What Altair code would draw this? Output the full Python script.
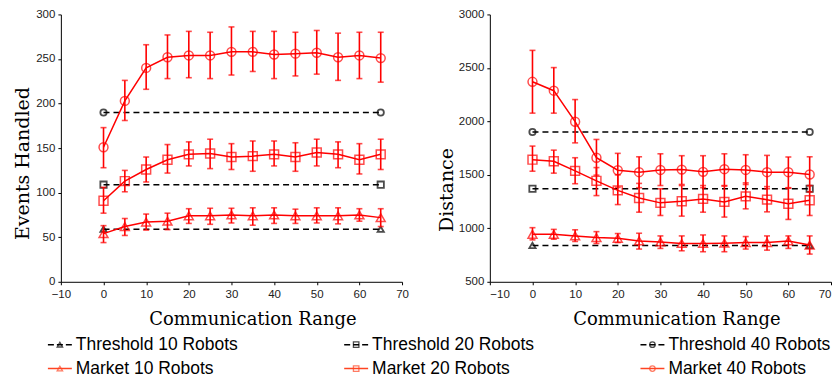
import altair as alt
import pandas as pd

# ---------------- data ----------------
comm_range = [0, 5, 10, 15, 20, 25, 30, 35, 40, 45, 50, 55, 60, 65]
thr_x = [0, 65]

# Left panel: Events Handled
ev_thr10 = 59
ev_thr20 = 109
ev_thr40 = 190
ev_m10 = [54, 62, 67, 68, 74, 74, 75, 74, 75, 74, 74, 74, 75, 72]
ev_m10_lo = [44, 52, 58, 58.5, 65.5, 64.5, 66, 63.5, 65.5, 65.5, 66, 65, 68, 62]
ev_m10_hi = [63, 71, 76, 77, 82, 82.5, 82.5, 83, 83, 81.5, 83, 83, 82, 82]
ev_m20 = [91, 113, 126, 137, 143, 144, 140, 141, 143, 140, 145, 143, 137, 143]
ev_m20_lo = [77, 101, 112, 122, 130, 127, 126, 124, 130, 124, 130, 128, 121, 126]
ev_m20_hi = [106, 125, 140, 154, 157, 160, 155, 158, 158, 156, 160, 157, 155, 160]
ev_m40 = [151, 203, 240, 252, 254, 254, 258, 258, 255, 256, 257, 252, 254, 251]
ev_m40_lo = [128, 181, 216, 228, 229, 228, 232, 236, 228, 231, 233, 226, 228, 224]
ev_m40_hi = [173, 226, 266, 277, 281, 280, 286, 281, 281, 280, 282, 279, 280, 280]

# Right panel: Distance
di_thr10 = 840
di_thr20 = 1370
di_thr40 = 1900
di_m10 = [944, 944, 929, 914, 907, 882, 873, 858, 858, 861, 867, 867, 882, 843]
di_m10_lo = [892, 898, 877, 858, 867, 806, 812, 790, 781, 781, 806, 796, 812, 759]
di_m10_hi = [1006, 990, 986, 969, 951, 954, 929, 929, 938, 929, 923, 929, 929, 929]
di_m20 = [1642, 1627, 1537, 1444, 1355, 1284, 1238, 1253, 1275, 1247, 1299, 1268, 1229, 1262]
di_m20_lo = [1534, 1516, 1417, 1306, 1222, 1151, 1120, 1114, 1151, 1105, 1182, 1154, 1083, 1120]
di_m20_hi = [1769, 1731, 1660, 1568, 1500, 1420, 1370, 1400, 1400, 1395, 1425, 1390, 1375, 1400]
di_m40 = [2370, 2287, 1997, 1660, 1543, 1525, 1546, 1549, 1528, 1553, 1546, 1525, 1525, 1503]
di_m40_lo = [2077, 2077, 1799, 1497, 1383, 1380, 1400, 1410, 1380, 1400, 1410, 1370, 1380, 1340]
di_m40_hi = [2664, 2503, 2204, 1831, 1701, 1669, 1697, 1679, 1679, 1697, 1688, 1682, 1667, 1669]

legend_labels = ["Threshold 10 Robots", "Threshold 20 Robots", "Threshold 40 Robots",
                 "Market 10 Robots", "Market 20 Robots", "Market 40 Robots"]
legend_kind = ["Threshold", "Threshold", "Threshold", "Market", "Market", "Market"]
legend_robots = ["10", "20", "40", "10", "20", "40"]
legend_col = [0, 1, 2, 0, 1, 2]
legend_row = [0, 0, 0, 1, 1, 1]

RED = "#ff0000"
ORANGE = "#ff4422"
SERIES = ["10", "20", "40"]
SHAPES = ["triangle-up", "square", "circle"]
PW, PH = 342, 268


def market_df(means, los, his):
    rows = []
    for name, m, lo, hi in zip(SERIES, means, los, his):
        for x, a, b, c in zip(comm_range, m, lo, hi):
            rows.append({"x": x, "y": a, "lo": b, "hi": c, "s": name})
    return pd.DataFrame(rows)


def thr_df(vals):
    rows = []
    for name, v in zip(SERIES, vals):
        for x in thr_x:
            rows.append({"x": x, "y": v, "s": name})
    return pd.DataFrame(rows)


def panel(mdf, tdf, ydom, ystep, ytitle, flush, ytx, yty, xtx):
    xs = alt.Scale(domain=[-10, 70], nice=False)
    ys = alt.Scale(domain=ydom, nice=False, zero=False)
    xax = alt.Axis(values=list(range(-10, 71, 10)), title="Communication Range",
                   labelPadding=4, labelFlush=flush, format="d",
                   titleX=xtx, titleY=42.5, titleBaseline="alphabetic", titleFontSize=18)
    yax = alt.Axis(values=list(range(ydom[0], ydom[1] + 1, ystep)), title=ytitle,
                   labelPadding=3, format="d",
                   titleX=ytx, titleY=yty, titleBaseline="alphabetic", titleFontSize=19)
    shape = alt.Shape("s:N", scale=alt.Scale(domain=SERIES, range=SHAPES), legend=None)

    base_t = alt.Chart(tdf)
    tline = base_t.mark_line(color="black", strokeDash=[6, 4], strokeWidth=1.5).encode(
        x=alt.X("x:Q", scale=xs, axis=xax), y=alt.Y("y:Q", scale=ys, axis=yax), detail="s:N")
    tpts = base_t.mark_point(color="black", filled=False, size=40, strokeWidth=1.8).encode(
        x="x:Q", y="y:Q", shape=shape)

    base_m = alt.Chart(mdf)
    rule = base_m.mark_rule(color=RED, strokeWidth=1.6).encode(x="x:Q", y="lo:Q", y2="hi:Q")
    cap_lo = base_m.mark_tick(color=RED, orient="horizontal", size=6, thickness=1.6).encode(
        x="x:Q", y="lo:Q")
    cap_hi = base_m.mark_tick(color=RED, orient="horizontal", size=6, thickness=1.6).encode(
        x="x:Q", y="hi:Q")
    mline = base_m.mark_line(color=RED, strokeWidth=1.5).encode(x="x:Q", y="y:Q", detail="s:N")
    mpts = base_m.mark_point(color=RED, filled=False, size=80, strokeWidth=1.5).encode(
        x="x:Q", y="y:Q", shape=shape)

    return alt.layer(tline, tpts, rule, cap_lo, cap_hi, mline, mpts).properties(
        width=PW, height=PH)


left = panel(market_df([ev_m10, ev_m20, ev_m40], [ev_m10_lo, ev_m20_lo, ev_m40_lo],
                       [ev_m10_hi, ev_m20_hi, ev_m40_hi]),
             thr_df([ev_thr10, ev_thr20, ev_thr40]), [0, 300], 50, "Events Handled", False,
             -32.5, 149, 192)
right = panel(market_df([di_m10, di_m20, di_m40], [di_m10_lo, di_m20_lo, di_m40_lo],
                        [di_m10_hi, di_m20_hi, di_m40_hi]),
              thr_df([di_thr10, di_thr20, di_thr40]), [500, 3000], 500, "Distance", True,
              -37, 175.5, 187)

# ---------------- legend ----------------
ldf = pd.DataFrame({"label": legend_labels, "kind": legend_kind, "s": legend_robots,
                    "col": legend_col, "row": legend_row})
PX_PER_COL = 297.0
x0 = 13 / PX_PER_COL
lxs = alt.Scale(domain=[x0, x0 + PW / PX_PER_COL], nice=False, zero=False)
lys = alt.Scale(domain=[-0.5, 1.5], reverse=True, nice=False, zero=False)
lcolor = alt.Color("kind:N", scale=alt.Scale(domain=["Threshold", "Market"],
                                              range=["black", ORANGE]), legend=None)
lbase = alt.Chart(ldf).transform_calculate(
    xa="datum.col", xb="datum.col + 24/297", xm="datum.col + 12/297",
    xt="datum.col + 28/297")
lrule = lbase.mark_rule(strokeWidth=1.5).encode(
    x=alt.X("xa:Q", scale=lxs, axis=None), x2="xb:Q",
    y=alt.Y("row:Q", scale=lys, axis=None), color=lcolor,
    strokeDash=alt.StrokeDash("kind:N", scale=alt.Scale(domain=["Threshold", "Market"],
                                                        range=[[6, 3], [1, 0]]), legend=None))
lpts = lbase.mark_point(filled=False, size=30, strokeWidth=1.3).encode(
    x="xm:Q", y="row:Q", color=lcolor,
    shape=alt.Shape("s:N", scale=alt.Scale(domain=SERIES, range=SHAPES), legend=None))
ltext = lbase.mark_text(align="left", baseline="middle", fontSize=17.5,
                        font="Liberation Sans", color="black").encode(
    x="xt:Q", y="row:Q", text="label:N")
legend = alt.layer(lrule, lpts, ltext).properties(width=PW, height=48)

chart = alt.concat(
    left, right, legend, columns=2,
    spacing={"row": 51, "column": 88}, bounds="flush"
).properties(
    padding={"left": 5, "top": 0, "right": 0, "bottom": 0}
).configure_view(stroke=None).configure_axis(
    grid=False, domainColor="black", domainWidth=1, tickColor="black", tickSize=3,
    labelFont="Liberation Sans", labelFontSize=11.5, labelColor="#222222",
    titleFont="DejaVu Serif", titleFontWeight="normal", titleColor="black"
)

chart.save("out.html", embed_options={"renderer": "svg", "actions": False})
